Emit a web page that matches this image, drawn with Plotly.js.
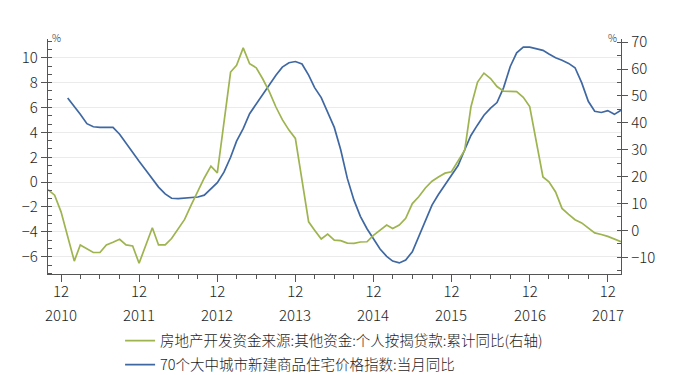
<!DOCTYPE html>
<html>
<head>
<meta charset="utf-8">
<script src="https://cdn.plot.ly/plotly-3.0.1.min.js"></script>
<style>html,body{margin:0;padding:0;background:#fff;}#chart{width:673px;height:375px;}</style>
</head>
<body>
<div id="chart"></div>
<script>
// Monthly dates (Oct 2010 – Feb 2018)
var months = [
  "2010-10-01","2010-11-01","2010-12-01",
  "2011-01-01","2011-02-01","2011-03-01","2011-04-01","2011-05-01","2011-06-01","2011-07-01","2011-08-01","2011-09-01","2011-10-01","2011-11-01","2011-12-01",
  "2012-01-01","2012-02-01","2012-03-01","2012-04-01","2012-05-01","2012-06-01","2012-07-01","2012-08-01","2012-09-01","2012-10-01","2012-11-01","2012-12-01",
  "2013-01-01","2013-02-01","2013-03-01","2013-04-01","2013-05-01","2013-06-01","2013-07-01","2013-08-01","2013-09-01","2013-10-01","2013-11-01","2013-12-01",
  "2014-01-01","2014-02-01","2014-03-01","2014-04-01","2014-05-01","2014-06-01","2014-07-01","2014-08-01","2014-09-01","2014-10-01","2014-11-01","2014-12-01",
  "2015-01-01","2015-02-01","2015-03-01","2015-04-01","2015-05-01","2015-06-01","2015-07-01","2015-08-01","2015-09-01","2015-10-01","2015-11-01","2015-12-01",
  "2016-01-01","2016-02-01","2016-03-01","2016-04-01","2016-05-01","2016-06-01","2016-07-01","2016-08-01","2016-09-01","2016-10-01","2016-11-01","2016-12-01",
  "2017-01-01","2017-02-01","2017-03-01","2017-04-01","2017-05-01","2017-06-01","2017-07-01","2017-08-01","2017-09-01","2017-10-01","2017-11-01","2017-12-01",
  "2018-01-01","2018-02-01"
];

// 房地产开发资金来源:其他资金:个人按揭贷款:累计同比 (right axis, %)
var mortgageYoY = [
  15.2, 13.1, 6.9,
  null, -11.4, -5.4, -6.7, -8.2, -8.2, -5.4, -4.4, -3.3, -5.4, -5.8, -12.2,
  null, 1.0, -5.4, -5.4, -3.0, 0.5, 4.1, 9.5, 14.8, 19.5, 23.9, 21.4,
  null, 58.9, 61.4, 67.9, 62.0, 60.5, 56.4, 51.6, 45.9, 41.2, 37.3, 34.2,
  null, 3.2, 0.1, -3.2, -1.35, -3.6, -3.8, -4.7, -4.8, -4.3, -4.2, -1.8,
  null, 2.0, 0.75, 2.0, 4.5, 10.0, 12.5, 15.8, 18.3, 19.9, 21.3, 21.8,
  null, 29.8, 45.9, 55.2, 58.5, 56.5, 53.5, 51.8, 51.7, 51.6, 49.5, 46.1,
  null, 19.9, 18.1, 14.3, 8.2, 6.0, 4.0, 2.8, 1.0, -0.9, -1.5, -2.2,
  null, -4.2
];

// 70个大中城市新建商品住宅价格指数:当月同比 (left axis, %)
var priceYoY = [
  null, null, null,
  6.77, 6.1, 5.45, 4.7, 4.45, 4.4, 4.4, 4.4, 3.85, 3.1, 2.37, 1.67,
  0.97, 0.3, -0.4, -0.95, -1.3, -1.33, -1.3, -1.28, -1.2, -1.05, -0.55, -0.05,
  0.8, 2.0, 3.3, 4.3, 5.5, 6.3, 7.0, 7.85, 8.6, 9.25, 9.6, 9.7,
  9.5, 8.6, 7.6, 6.8, 5.65, 4.4, 2.6, 0.3, -1.45, -2.75, -3.75, -4.6,
  -5.38, -5.97, -6.35, -6.5, -6.26, -5.6, -4.35, -3.1, -1.85, -1.0, -0.25, 0.5,
  1.33, 2.6, 3.75, 4.6, 5.38, 5.95, 6.4, 7.6, 9.3, 10.4, 10.85, 10.86,
  10.72, 10.6, 10.3, 10.0, 9.8, 9.55, 9.2, 8.0, 6.5, 5.7, 5.6, 5.75,
  5.45, 5.78
];

// X tick positions, month labels and year labels
var xTickVals = ["2010-12-01","2011-12-01","2012-12-01","2013-12-01","2014-12-01","2015-12-01","2016-12-01","2017-12-01"];
var xMonthText = ["12","12","12","12","12","12","12","12"];
var xYearText = ["2010","2011","2012","2013","2014","2015","2016","2017"];

var seriesNames = ["房地产开发资金来源:其他资金:个人按揭贷款:累计同比(右轴)", "70个大中城市新建商品住宅价格指数:当月同比"];

var FONT = "'Noto Sans CJK SC', 'Noto Sans', sans-serif";
var green = "#9db44f";
var blue = "#3f68a3";
var axisColor = "#555555";
var textColor = "#1e1e1e";

var traces = [
  {
    x: months, y: mortgageYoY, name: seriesNames[0], yaxis: "y2",
    type: "scatter", mode: "lines", connectgaps: true,
    line: {color: green, width: 1.7}, legendgroup: "a"
  },
  {
    x: months, y: priceYoY, name: seriesNames[1], yaxis: "y",
    type: "scatter", mode: "lines", connectgaps: false,
    line: {color: blue, width: 1.7}, legendgroup: "b"
  }
];

var annotations = [
  {text: "%", xref: "paper", yref: "paper", x: 0, y: 1, xanchor: "left", yanchor: "middle",
   xshift: 2, yshift: 2, showarrow: false, font: {family: FONT, size: 10, color: textColor}},
  {text: "%", xref: "paper", yref: "paper", x: 1, y: 1, xanchor: "right", yanchor: "middle",
   xshift: -2, yshift: 2, showarrow: false, font: {family: FONT, size: 10, color: textColor}}
];
xYearText.forEach(function (yr, i) {
  annotations.push({
    text: yr, xref: "x", yref: "paper", x: xTickVals[i], y: 0,
    xanchor: "center", yanchor: "middle", yshift: -40, showarrow: false,
    font: {family: FONT, size: 15, color: textColor, weight: 300}
  });
});

var layout = {
  width: 673, height: 375,
  margin: {l: 47.5, r: 51.5, t: 38.5, b: 101, autoexpand: false},
  paper_bgcolor: "#ffffff", plot_bgcolor: "#ffffff",
  font: {family: FONT, size: 14, color: textColor, weight: 300},
  showlegend: true,
  legend: {
    x: 0.1258, y: -0.216, xanchor: "left", yanchor: "top",
    orientation: "v", traceorder: "grouped", tracegroupgap: 2,
    font: {family: FONT, size: 14.5, color: textColor, weight: 300},
    bgcolor: "rgba(0,0,0,0)", borderwidth: 0
  },
  xaxis: {
    type: "date",
    range: ["2010-10-01", "2018-02-01"],
    tickmode: "array", tickvals: xTickVals, ticktext: xMonthText,
    ticks: "outside", ticklen: 7, tickcolor: axisColor, tickwidth: 1,
    ticklabelstandoff: -3,
    showline: true, linecolor: axisColor, linewidth: 1.3,
    showgrid: false, zeroline: false,
    tickfont: {family: FONT, size: 15, color: textColor, weight: 300},
    minor: {tickmode: "linear", tick0: "2010-12-01", dtick: "M3", ticks: "outside", ticklen: 4, tickcolor: axisColor, showgrid: false}
  },
  yaxis: {
    range: [-7.39, 11.51],
    tickmode: "linear", tick0: 0, dtick: 2,
    ticks: "outside", ticklen: 6, tickcolor: axisColor,
    showline: true, linecolor: axisColor, linewidth: 1.3,
    showgrid: true, gridcolor: "#ebebeb", gridwidth: 1,
    zeroline: false,
    tickfont: {family: FONT, size: 15, color: textColor, weight: 300},
    minor: {tickmode: "linear", tick0: 0, dtick: 2/3, ticks: "inside", ticklen: 4, tickcolor: axisColor, showgrid: false}
  },
  yaxis2: {
    overlaying: "y", side: "right",
    range: [-16.2, 71.19],
    tickmode: "linear", tick0: 0, dtick: 10,
    ticks: "outside", ticklen: 6, tickcolor: axisColor,
    showline: true, linecolor: axisColor, linewidth: 1.3,
    showgrid: false, zeroline: false,
    tickfont: {family: FONT, size: 15, color: textColor, weight: 300},
    minor: {tickmode: "linear", tick0: 0, dtick: 5, ticks: "inside", ticklen: 4, tickcolor: axisColor, showgrid: false}
  },
  annotations: annotations
};

Plotly.newPlot("chart", traces, layout, {displayModeBar: false, staticPlot: true});
</script>
</body>
</html>
